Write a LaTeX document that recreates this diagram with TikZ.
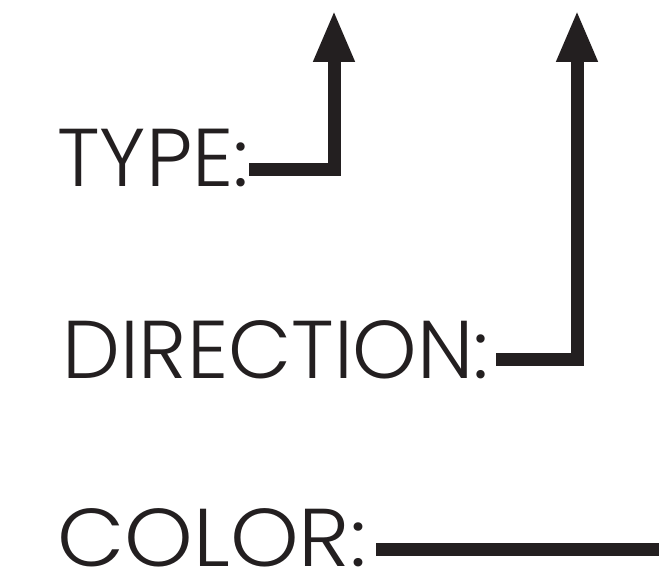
\documentclass[tikz,border=0pt]{standalone}
\usepackage{fontspec}
\setmainfont{Poppins}[UprightFont=* Light]
\usetikzlibrary{arrows.meta}
\definecolor{ink}{HTML}{231F20}
\tikzset{
  lbl/.style={anchor=base west, inner sep=0pt, text depth=0pt, text=ink, font=\fontsize{82}{82}\selectfont},
  lead/.style={draw=ink, line width=13pt, line join=miter, line cap=butt},
  uparrow/.style={lead, -{Triangle[length=52pt, width=38pt]}}
}
\begin{document}
\begin{tikzpicture}[x=1pt,y=1pt]
\useasboundingbox (0,0) rectangle (659,577);
\node[lbl] (type) at (57,390) {TYPE:};
\node[lbl] (dir) at (62,198) {DIRECTION:};
\node[lbl] (col) at (57,10) {\scalebox{1.065}[1]{COLOR:}};
\coordinate (t0) at (249,407);
\coordinate (t1) at (334,407);
\coordinate (t2) at (334,567);
\coordinate (d0) at (496,217);
\coordinate (d1) at (577,217);
\coordinate (d2) at (577,567);
\coordinate (c0) at (376,27.5);
\coordinate (c1) at (659,27.5);
\draw[uparrow] (t0) -- (t1) -- (t2);
\draw[uparrow] (d0) -- (d1) -- (d2);
\draw[lead] (c0) -- (c1);
\end{tikzpicture}
\end{document}
